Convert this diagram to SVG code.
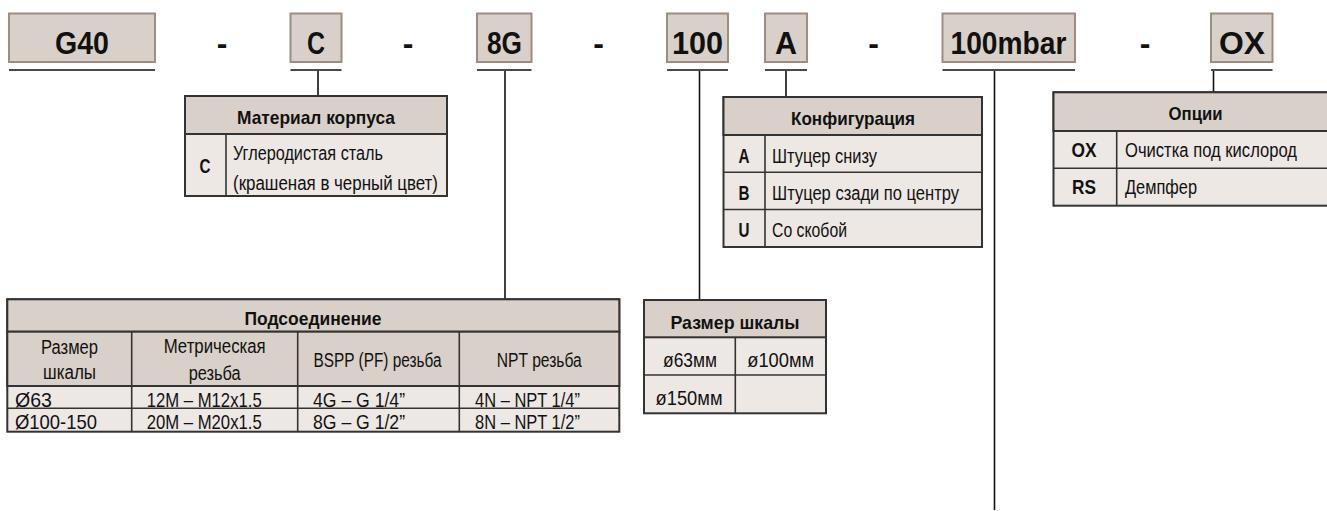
<svg xmlns="http://www.w3.org/2000/svg" width="1327" height="511" viewBox="0 0 1327 511">
<style>
text{font-family:"Liberation Sans",Arial,sans-serif;fill:#111}
.code{fill:#d9d1c9;stroke:#9e8c83;stroke-width:2}
.code-t{font-size:32px;font-weight:bold;text-anchor:middle}
.dash{font-size:32px;font-weight:bold;text-anchor:middle}
.ul{stroke:#4a4a4a;stroke-width:2}
.hd{fill:#d9d1c9;stroke:#333;stroke-width:2}
.bd{fill:#eee8e5;stroke:#333;stroke-width:2}
.ln{stroke:#333;stroke-width:1.6;fill:none}
.h{font-size:19px;font-weight:bold;text-anchor:middle}
.k{font-size:20px;font-weight:bold;text-anchor:middle}
.d{font-size:20px}
.r{font-size:21px}
.c{font-size:20px;text-anchor:middle}
.con{stroke:#111;stroke-width:1.6;fill:none}
</style>
<g id="connectors">
<line class="con" x1="318" y1="70" x2="318" y2="96"/>
<line class="con" x1="505" y1="70" x2="505" y2="299"/>
<line class="con" x1="699.5" y1="70" x2="699.5" y2="300"/>
<line class="con" x1="786" y1="70" x2="786" y2="97"/>
<line class="con" x1="994.5" y1="70" x2="994.5" y2="510"/>
<line class="con" x1="1213.5" y1="70" x2="1213.5" y2="92"/>
</g>
<g id="code-G40"><rect class="code" x="9" y="13.5" width="146" height="48.5"/><line class="ul" x1="9" y1="70" x2="155" y2="70"/><text class="code-t" x="82" y="53.5" textLength="54" lengthAdjust="spacingAndGlyphs">G40</text></g>
<g id="sep1"><text class="dash" x="222" y="53.5">-</text></g>
<g id="code-C"><rect class="code" x="290.5" y="13.5" width="51" height="48.5"/><line class="ul" x1="290.5" y1="70" x2="341.5" y2="70"/><text class="code-t" x="316" y="53.5" textLength="18" lengthAdjust="spacingAndGlyphs">C</text></g>
<g id="sep2"><text class="dash" x="408" y="53.5">-</text></g>
<g id="code-8G"><rect class="code" x="477" y="13.5" width="54.5" height="48.5"/><line class="ul" x1="477" y1="70" x2="531.5" y2="70"/><text class="code-t" x="504.5" y="53.5" textLength="35" lengthAdjust="spacingAndGlyphs">8G</text></g>
<g id="sep3"><text class="dash" x="598.5" y="53.5">-</text></g>
<g id="code-100"><rect class="code" x="667" y="13.5" width="61" height="48.5"/><line class="ul" x1="667" y1="70" x2="728" y2="70"/><text class="code-t" x="697.5" y="53.5" textLength="51" lengthAdjust="spacingAndGlyphs">100</text></g>
<g id="code-A"><rect class="code" x="765" y="13.5" width="42" height="48.5"/><line class="ul" x1="765" y1="70" x2="807" y2="70"/><text class="code-t" x="786" y="53.5" textLength="22" lengthAdjust="spacingAndGlyphs">A</text></g>
<g id="sep4"><text class="dash" x="873.5" y="53.5">-</text></g>
<g id="code-100mbar"><rect class="code" x="942.5" y="13.5" width="132.5" height="48.5"/><line class="ul" x1="942.5" y1="70" x2="1075" y2="70"/><text class="code-t" x="1008.5" y="53.5" textLength="116" lengthAdjust="spacingAndGlyphs">100mbar</text></g>
<g id="sep5"><text class="dash" x="1145" y="53.5">-</text></g>
<g id="code-OX"><rect class="code" x="1211" y="13.5" width="61.5" height="48.5"/><line class="ul" x1="1211" y1="70" x2="1272.5" y2="70"/><text class="code-t" x="1242" y="53.5" textLength="46" lengthAdjust="spacingAndGlyphs">OX</text></g>

<g id="material">
<rect class="bd" x="185" y="96" width="262" height="100"/>
<rect class="hd" x="185" y="96" width="262" height="38"/>
<line class="ln" x1="226" y1="134" x2="226" y2="196"/>
<text class="h" x="316" y="124" textLength="158" lengthAdjust="spacingAndGlyphs">Материал корпуса</text>
<text class="k" x="205" y="173" textLength="11" lengthAdjust="spacingAndGlyphs">C</text>
<text class="d" x="233" y="160" textLength="150" lengthAdjust="spacingAndGlyphs">Углеродистая сталь</text>
<text class="d" x="233" y="190" textLength="205" lengthAdjust="spacingAndGlyphs">(крашеная в черный цвет)</text>
</g>

<g id="configuration">
<rect class="bd" x="723.5" y="97" width="258.5" height="150"/>
<rect class="hd" x="723.5" y="97" width="258.5" height="38"/>
<line class="ln" x1="723.5" y1="172.3" x2="982" y2="172.3"/>
<line class="ln" x1="723.5" y1="209.5" x2="982" y2="209.5"/>
<line class="ln" x1="765" y1="135" x2="765" y2="247"/>
<text class="h" x="853" y="125" textLength="124" lengthAdjust="spacingAndGlyphs">Конфигурация</text>
<text class="k" x="744" y="163" textLength="11" lengthAdjust="spacingAndGlyphs">A</text>
<text class="d" x="772" y="163" textLength="105" lengthAdjust="spacingAndGlyphs">Штуцер снизу</text>
<text class="k" x="744" y="200" textLength="11" lengthAdjust="spacingAndGlyphs">B</text>
<text class="d" x="772" y="200" textLength="187" lengthAdjust="spacingAndGlyphs">Штуцер сзади по центру</text>
<text class="k" x="744" y="237" textLength="11" lengthAdjust="spacingAndGlyphs">U</text>
<text class="d" x="772" y="237" textLength="75" lengthAdjust="spacingAndGlyphs">Со скобой</text>
</g>

<g id="options">
<rect class="bd" x="1053.5" y="92.3" width="290" height="113.4"/>
<rect class="hd" x="1053.5" y="92.3" width="290" height="38.7"/>
<line class="ln" x1="1053.5" y1="168.3" x2="1343.5" y2="168.3"/>
<line class="ln" x1="1116.7" y1="131" x2="1116.7" y2="205.7"/>
<text class="h" x="1195.5" y="120" textLength="54" lengthAdjust="spacingAndGlyphs">Опции</text>
<text class="k" x="1084" y="157" textLength="25" lengthAdjust="spacingAndGlyphs">OX</text>
<text class="d" x="1125" y="157" textLength="172" lengthAdjust="spacingAndGlyphs">Очистка под кислород</text>
<text class="k" x="1084" y="193.5" textLength="24" lengthAdjust="spacingAndGlyphs">RS</text>
<text class="d" x="1125" y="193.5" textLength="72" lengthAdjust="spacingAndGlyphs">Демпфер</text>
</g>

<g id="scale">
<rect class="bd" x="644" y="300" width="182" height="113.3"/>
<rect class="hd" x="644" y="300" width="182" height="37.3"/>
<line class="ln" x1="644" y1="375" x2="826" y2="375"/>
<line class="ln" x1="735.3" y1="337.3" x2="735.3" y2="413.3"/>
<text class="h" x="735" y="328.5" textLength="129" lengthAdjust="spacingAndGlyphs">Размер шкалы</text>
<text class="c" x="690" y="366.7" textLength="54" lengthAdjust="spacingAndGlyphs">ø63мм</text>
<text class="c" x="780.7" y="366.7" textLength="67" lengthAdjust="spacingAndGlyphs">ø100мм</text>
<text class="c" x="689" y="405" textLength="67" lengthAdjust="spacingAndGlyphs">ø150мм</text>
</g>

<g id="connection">
<rect class="bd" x="7.3" y="299.3" width="612" height="132.4"/>
<rect class="hd" x="7.3" y="299.3" width="612" height="32.4"/>
<rect class="hd" x="7.3" y="331.7" width="612" height="54.3"/>
<line class="ln" x1="7.3" y1="408.3" x2="619.3" y2="408.3"/>
<line class="ln" x1="131.7" y1="331.7" x2="131.7" y2="431.7"/>
<line class="ln" x1="297.7" y1="331.7" x2="297.7" y2="431.7"/>
<line class="ln" x1="459.3" y1="331.7" x2="459.3" y2="431.7"/>
<text class="h" x="313" y="325" textLength="137" lengthAdjust="spacingAndGlyphs">Подсоединение</text>
<text class="c" x="69.5" y="354" textLength="57" lengthAdjust="spacingAndGlyphs">Размер</text>
<text class="c" x="69.5" y="379" textLength="53" lengthAdjust="spacingAndGlyphs">шкалы</text>
<text class="c" x="214.7" y="353" textLength="102" lengthAdjust="spacingAndGlyphs">Метрическая</text>
<text class="c" x="214.7" y="380" textLength="52" lengthAdjust="spacingAndGlyphs">резьба</text>
<text class="c" x="377.5" y="367" textLength="128" lengthAdjust="spacingAndGlyphs">BSPP (PF) резьба</text>
<text class="c" x="539.3" y="367" textLength="85" lengthAdjust="spacingAndGlyphs">NPT резьба</text>
<text class="r" x="15" y="406.5" textLength="37" lengthAdjust="spacingAndGlyphs">Ø63</text>
<text class="r" x="146.7" y="406.5" textLength="115" lengthAdjust="spacingAndGlyphs">12M – M12x1.5</text>
<text class="r" x="313" y="406.5" textLength="92" lengthAdjust="spacingAndGlyphs">4G – G 1/4”</text>
<text class="r" x="475" y="406.5" textLength="105" lengthAdjust="spacingAndGlyphs">4N – NPT 1/4”</text>
<text class="r" x="15" y="428.5" textLength="82" lengthAdjust="spacingAndGlyphs">Ø100-150</text>
<text class="r" x="146.7" y="428.5" textLength="115" lengthAdjust="spacingAndGlyphs">20M – M20x1.5</text>
<text class="r" x="313" y="428.5" textLength="92" lengthAdjust="spacingAndGlyphs">8G – G 1/2”</text>
<text class="r" x="475" y="428.5" textLength="105" lengthAdjust="spacingAndGlyphs">8N – NPT 1/2”</text>
</g>
</svg>
